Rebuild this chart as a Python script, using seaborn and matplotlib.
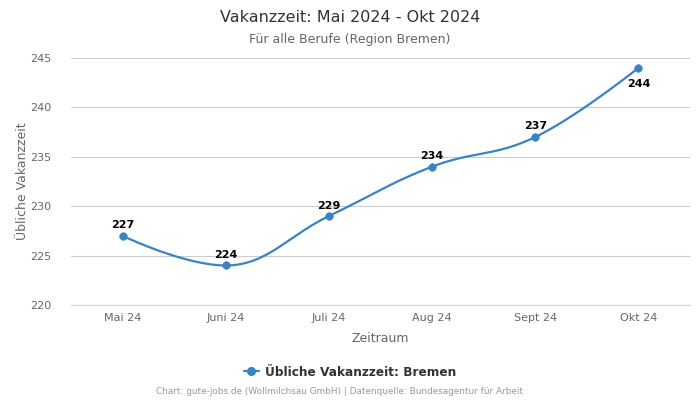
import numpy as np
import pandas as pd
import matplotlib
matplotlib.use("Agg")
import matplotlib.pyplot as plt
import seaborn as sns

categories = ["Mai 24", "Juni 24", "Juli 24", "Aug 24", "Sept 24", "Okt 24"]
values = [227, 224, 229, 234, 237, 244]
series_name = "Übliche Vakanzzeit: Bremen"
yticks = [220, 225, 230, 235, 240, 245]

sns.set_theme(style="white")
plt.rcParams['font.family'] = ['DejaVu Sans']

LINE = "#3a83c1"

df = pd.DataFrame({"x": np.arange(len(categories)), "y": values, "cat": categories})


def spline_path(xs, ys, smoothing=1.5, n=40):
    xs = list(map(float, xs)); ys = list(map(float, ys))
    N = len(xs)
    lc = [(xs[i], ys[i]) for i in range(N)]
    rc = [(xs[i], ys[i]) for i in range(N)]
    d = smoothing + 1
    for i in range(1, N - 1):
        x, y = xs[i], ys[i]
        lx, ly = xs[i - 1], ys[i - 1]
        nx, ny = xs[i + 1], ys[i + 1]
        lcx = (smoothing * x + lx) / d
        lcy = (smoothing * y + ly) / d
        rcx = (smoothing * x + nx) / d
        rcy = (smoothing * y + ny) / d
        if rcx != lcx:
            corr = ((rcy - lcy) * (rcx - x)) / (rcx - lcx) + y - rcy
            lcy += corr; rcy += corr
        if lcy > ly and lcy > y:
            lcy = max(ly, y); rcy = 2 * y - lcy
        elif lcy < ly and lcy < y:
            lcy = min(ly, y); rcy = 2 * y - lcy
        if rcy > ny and rcy > y:
            rcy = max(ny, y); lcy = 2 * y - rcy
        elif rcy < ny and rcy < y:
            rcy = min(ny, y); lcy = 2 * y - rcy
        lc[i] = (lcx, lcy); rc[i] = (rcx, rcy)
    px, py = [], []
    t = np.linspace(0, 1, n)
    for i in range(N - 1):
        p0 = np.array([xs[i], ys[i]]); p1 = np.array(rc[i])
        p2 = np.array(lc[i + 1]); p3 = np.array([xs[i + 1], ys[i + 1]])
        b = ((1 - t) ** 3)[:, None] * p0 + (3 * (1 - t) ** 2 * t)[:, None] * p1 \
            + (3 * (1 - t) * t ** 2)[:, None] * p2 + (t ** 3)[:, None] * p3
        px.extend(b[:, 0]); py.extend(b[:, 1])
    return np.array(px), np.array(py)


fig = plt.figure(figsize=(7, 4), dpi=100)
ax = fig.add_axes([71 / 700, 1 - 305 / 400, 619 / 700, 247 / 400])

sx, sy = spline_path(df["x"], df["y"])
sns.lineplot(x=sx, y=sy, ax=ax, color=LINE, linewidth=1.6, sort=False, estimator=None)
sns.scatterplot(data=df, x="x", y="y", ax=ax, color=LINE, s=30, edgecolor=LINE, zorder=5)

for i, v in enumerate(values):
    if i == len(values) - 1:
        ax.annotate(str(v), (i, v), xytext=(0, -8), textcoords="offset points",
                    ha="center", va="top", fontsize=8, fontweight="bold", color="black")
    else:
        ax.annotate(str(v), (i, v), xytext=(0, 4), textcoords="offset points",
                    ha="center", va="bottom", fontsize=8, fontweight="bold", color="black")

ax.set_xlim(-0.5, len(categories) - 0.5)
ax.set_ylim(220, 245)
ax.set_yticks(yticks)
ax.set_xticks(range(len(categories)))
ax.set_xticklabels(categories)
ax.tick_params(axis="both", labelsize=8, colors="#666666", length=0, pad=6)
ax.tick_params(axis="y", pad=14)
ax.grid(axis="y", color="#cccccc", linewidth=0.8)
ax.grid(axis="x", visible=False)
for s in ["top", "right", "left"]:
    ax.spines[s].set_visible(False)
ax.spines["bottom"].set_color("#ccd6eb")
ax.spines["bottom"].set_linewidth(0.8)
ax.set_xlabel("Zeitraum", fontsize=9, color="#666666", labelpad=6)
ax.set_ylabel("Übliche Vakanzzeit", fontsize=9, color="#666666", labelpad=1)

fig.text(0.5, 1 - 17 / 400, "Vakanzzeit: Mai 2024 - Okt 2024", ha="center", va="center",
         fontsize=11.5, color="#333333")
fig.text(0.5, 1 - 39 / 400, "Für alle Berufe (Region Bremen)", ha="center", va="center",
         fontsize=9, color="#666666")

# legend
ax.plot([], [], color=LINE, marker="o", markersize=5.5, linewidth=1.6, label=series_name)
leg = fig.legend(*ax.get_legend_handles_labels(), loc="center", bbox_to_anchor=(350 / 700, 1 - 372 / 400),
                 frameon=False, fontsize=8.7, handlelength=1.2, handletextpad=0.5)
for t in leg.get_texts():
    t.set_fontweight("bold"); t.set_color("#333333")

fig.text(339.5 / 700, 1 - 392 / 400, "Chart: gute-jobs.de (Wollmilchsau GmbH) | Datenquelle: Bundesagentur für Arbeit",
         ha="center", va="center", fontsize=6.4, color="#999999")

fig.savefig("out.png", dpi=100)
